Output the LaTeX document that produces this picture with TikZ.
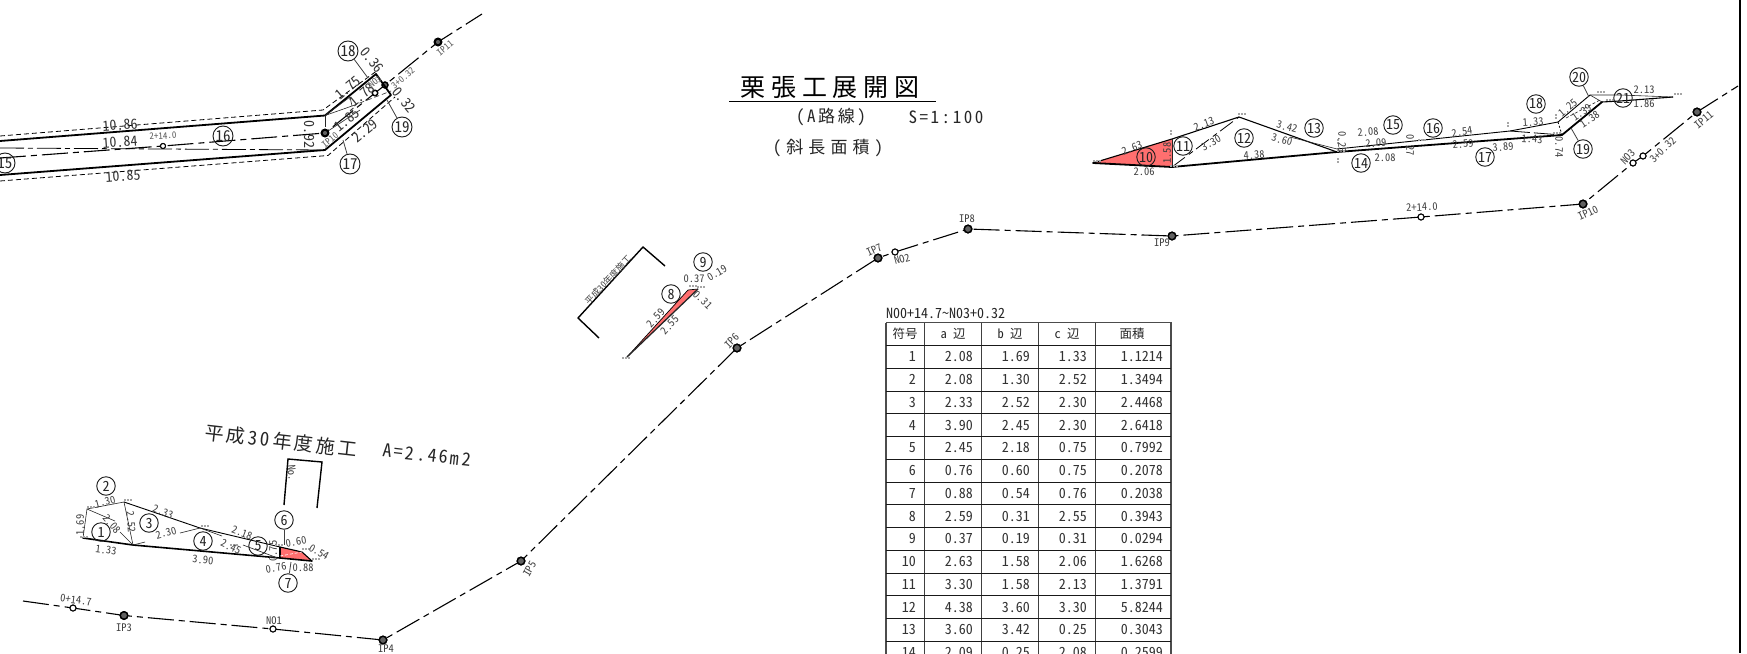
\documentclass[tikz,border=0pt]{standalone}
\usepackage{fontspec}
\setmainfont[RawFeature={+hwid}]{Noto Sans CJK JP}
\newcommand\fsz[1]{\fontsize{#1}{#1}\selectfont}
\definecolor{lotred}{HTML}{FF6F6F}
\tikzset{
  lab/.style={font=\fsz{10.5},text=black!75,inner sep=0pt},
  labb/.style={font=\fsz{14},text=black!80,inner sep=0pt},
  labs/.style={font=\fsz{9},text=black!65,inner sep=0pt},
  cnum/.style={circle,draw=black!90,line width=0.9pt,inner sep=0pt,minimum size=18.5pt,font=\fsz{14},text=black!85,fill=none},
  cnumb/.style={cnum,minimum size=20pt,font=\fsz{15}},
  ipt/.style={circle,draw=black,fill=black!62,line width=1.4pt,inner sep=0pt,minimum size=7.5pt},
  sta/.style={circle,draw=black,fill=white,line width=1pt,inner sep=0pt,minimum size=6pt},
  road/.style={line width=1.1pt,dash pattern=on 26pt off 5pt on 6pt off 5pt},
  heavy/.style={line width=1.8pt,line cap=round,line join=round},
  mid/.style={line width=1.1pt,line join=round},
  thin/.style={line width=0.6pt,black!85},
  dsh/.style={line width=0.8pt,dash pattern=on 5pt off 3pt},
  lead/.style={line width=0.8pt,black!75},
  gt/.style={line width=1.2pt,black!35,dash pattern=on 1.5pt off 1.5pt},
  brk/.style={line width=1.4pt},
  hd/.style={inner sep=0pt,font=\fsz{12.5},text=black!85},
  cell/.style={inner sep=0pt,anchor=east,font=\fsz{14},text=black!80},
}
\newcommand\lb[5][lab]{\node[#1,rotate=#2] (#3) at (#4) {#5};}
\newcommand\cc[4][cnum]{\node[#1] (#2) at (#3) {#4};}
\begin{document}
\begin{tikzpicture}[x=1pt,y=-1pt]
\path[use as bounding box,fill=white] (0,0) rectangle (1747,653);
\clip (0,0) rectangle (1747,653);
% ---- frame line at right
\coordinate (fa) at (1740,0); \coordinate (fb) at (1740,653);
\draw[line width=2.2pt] (fa) -- (fb);
% ---- title
\node[inner sep=0pt,font=\fsz{25}\addfontfeature{LetterSpace=23}] (title) at (830,87) {栗張工展開図};
\coordinate (ula) at (729,101); \coordinate (ulb) at (936,101);
\draw[line width=0.9pt] (ula) -- (ulb);
\node[inner sep=0pt,font=\fsz{17}\addfontfeature{LetterSpace=15},text=black!85] (tsub) at (831,117) {(A路線)};
\node[inner sep=0pt,font=\fsz{17}\addfontfeature{LetterSpace=15},text=black!85] (tscale) at (946,117) {S=1:100};
\node[inner sep=0pt,font=\fsz{17}\addfontfeature{LetterSpace=30},text=black!85] (tslope) at (828,148) {(斜長面積)};
% ---- main road
\node[sta] (s0) at (73,608) {};
\node[ipt] (ip3) at (124,615.5) {};
\node[sta] (n1) at (273,629) {};
\node[ipt] (ip4) at (383,640) {};
\node[ipt] (ip5) at (521,561) {};
\node[ipt] (ip6) at (737,348) {};
\node[ipt] (ip7) at (878,258) {};
\node[sta] (n2) at (895,252) {};
\node[ipt] (ip8) at (968,229) {};
\node[ipt] (ip9) at (1172,236) {};
\node[sta] (s2) at (1421,217) {};
\node[ipt] (ip10) at (1583,204) {};
\node[sta] (n3) at (1633,163) {};
\node[sta] (s3) at (1643,156) {};
\node[ipt] (ip11) at (1697,112) {};
\coordinate (rs) at (23,601); \coordinate (re) at (1738,86);
\draw[road] (rs) -- (s0.center) -- (ip3.center) -- (n1.center) -- (ip4.center) -- (ip5.center) -- (ip6.center) -- (ip7.center) -- (n2.center) -- (ip8.center) -- (ip9.center) -- (s2.center) -- (ip10.center) -- (n3.center) -- (s3.center) -- (ip11.center) -- (re);
\foreach \nm in {s0,n1,n2,s2,n3,s3}{\node[sta] at (\nm) {};}
\foreach \nm in {ip3,ip4,ip5,ip6,ip7,ip8,ip9,ip10,ip11}{\node[ipt] at (\nm) {};}
\lb{-7}{ls0}{76,600}{0+14.7}
\lb{0}{lip3}{124,628}{IP3}
\lb{0}{ln1}{274,621}{NO1}
\lb{0}{lip4}{386,649}{IP4}
\lb{60}{lip5}{530,569}{IP5}
\lb{45}{lip6}{732,341}{IP6}
\lb{25}{lip7}{874,250}{IP7}
\lb{15}{ln2}{902,259}{NO2}
\lb{0}{lip8}{967,219}{IP8}
\lb{0}{lip9}{1162,243}{IP9}
\lb{3}{ls2}{1422,207}{2+14.0}
\lb{25}{lip10}{1588,213}{IP10}
\lb{45}{ln3}{1628,157}{NO3}
\lb{45}{ls3}{1663,150}{3+0.32}
\lb{40}{lip11}{1704,120}{IP11}
% ---- top-left strip
\node[sta,minimum size=5pt] (as2) at (163,146) {};
\node[ipt] (aip10) at (325,133) {};
\node[sta,minimum size=6pt] (an3) at (375,93) {};
\node[ipt,minimum size=5pt] (as3) at (385,85) {};
\node[ipt] (aip11) at (438,42) {};
\coordinate (ars) at (0,158); \coordinate (are) at (482,14);
\draw[road] (ars) -- (as2.center) -- (aip10.center) -- (an3.center) -- (as3.center) -- (aip11.center) -- (are);
\foreach \nm in {as2,an3}{\node[sta,minimum size=5pt] at (\nm) {};}
\foreach \nm in {aip10,as3,aip11}{\node[ipt,minimum size=6pt] at (\nm) {};}
\coordinate (ua0) at (0,141); \coordinate (ua1) at (325,115.5); \coordinate (ua2) at (376,74);
\coordinate (ua3) at (391,95); \coordinate (ua4) at (325,150); \coordinate (ua5) at (0,175);
\draw[heavy] (ua0) -- (ua1) -- (ua2) -- (ua3) -- (ua4) -- (ua5);
\coordinate (da0) at (0,136); \coordinate (da1) at (323,110); \coordinate (da2) at (378,70);
\draw[dsh] (da0) -- (da1) -- (da2);
\coordinate (db0) at (0,181); \coordinate (db1) at (328,155.5); \coordinate (db2) at (395,97);
\draw[dsh] (db0) -- (db1) -- (db2);
\coordinate (ml0) at (0,148); \coordinate (ml1) at (325,150);
\draw[line width=0.8pt,dash pattern=on 24pt off 4pt on 5pt off 4pt] (ml0) -- (ml1);
\coordinate (ic) at (325,127); \coordinate (fa1) at (350,97); \coordinate (fa2) at (352,106);
\coordinate (fa3) at (391,91);
\draw[thin] (ua1) -- (ic);
\draw[thin] (ua1) -- (fa1); \draw[thin] (ua1) -- (fa2);
\draw[thin] (fa1) -- (fa2);
\draw[thin,dash pattern=on 5pt off 3pt] (fa2) -- (fa3);
\coordinate (am) at (360,110);
\draw[thin] (aip10) -- (am);
\lb[labb]{4}{a1086}{120,125}{10.86}
\lb[labb]{4}{a1084}{120,142}{10.84}
\lb[labb]{4}{a1085}{123,176}{10.85}
\lb[labs]{3}{a214}{163,136}{2+14.0}
\lb[labb]{-90}{a092}{310,134}{0.92}
\lb[labb]{40}{a185}{347,120}{1.85}
\lb[labb]{40}{a229}{365,131}{2.29}
\lb[labb]{40}{a175}{348,88}{1.75}
\lb[labb]{40}{a178}{362,95}{1.78}
\lb[labb]{-50}{a036}{372,60}{0.36}
\lb[labb]{-50}{a032}{404,100}{0.32}
\lb[labs]{40}{ano3}{375,82}{NO3}
\lb[labs]{40}{a3032}{403,78}{3+0.32}
\lb[labs]{40}{aip10t}{330,140}{IP10}
\lb[labs]{40}{aip11t}{445,48}{IP11}
\cc[cnumb]{ac15}{5,163}{15}
\cc[cnumb]{ac16}{223,136}{16}
\cc[cnumb]{ac17}{350,164}{17}
\cc[cnumb]{ac18}{348,51}{18}
\cc[cnumb]{ac19}{402,127}{19}
\coordinate (al18) at (368,78); \coordinate (al19) at (387,100); \coordinate (al17) at (343,140);
\draw[lead] (ac18) -- (al18); \draw[lead] (ac19) -- (al19); \draw[lead] (ac17) -- (al17);
% ---- lot 1-7
\coordinate (p1) at (83,538); \coordinate (p2) at (87,509); \coordinate (p3) at (124,502);
\coordinate (p4) at (133,545); \coordinate (p5) at (200,528); \coordinate (p6) at (280,558);
\coordinate (p7) at (280,547); \coordinate (p8) at (302,552); \coordinate (p9) at (312,561);
\coordinate (p1a) at (115,521); \coordinate (p1b) at (120,532);
\fill[lotred] (p7) -- (p8) -- (p9) -- (p6) -- cycle;
\draw[mid] (p7) -- (p8) -- (p9);
\draw[heavy,line width=1.6pt] (p1) -- (p4) -- (p6) -- (p9);
\draw[mid] (p6) -- (p7);
\draw[thin] (p1) -- (p2) -- (p3) -- (p4);
\draw[mid,line width=0.9pt] (p3) -- (p5) -- (p7);
\draw[thin] (p2) -- (p1a); \draw[thin] (p1b) -- (p4);
\coordinate (p4a) at (145,542); \coordinate (p4c) at (180,533);
\draw[thin] (p4) -- (p4a); \draw[thin] (p4c) -- (p5);
\coordinate (p5a) at (222,536); \coordinate (p5b) at (243,545); \coordinate (p5c) at (275,557);
\draw[thin] (p5) -- (p5a); \draw[thin] (p5b) -- (p5c);
\coordinate (rda) at (280,556); \coordinate (rdb) at (302,552);
\draw[thin,white,dash pattern=on 3pt off 2pt] (rda) -- (rdb);
\foreach \xx/\yy in {87/507, 124/500, 201/526, 230/545, 275/545, 302/549, 312/559, 80/537}{\draw[gt] (\xx,\yy) -- ++(9,0);}
\lb[lab]{15}{b130}{105,502}{1.30}
\lb[lab]{90}{b169}{80,525}{1.69}
\lb[lab]{-50}{b208}{112,524}{2.08}
\lb[lab]{-7}{b133}{106,550}{1.33}
\lb[lab]{-85}{b252}{131,522}{2.52}
\lb[lab]{15}{b230}{166,533}{2.30}
\lb[lab]{-20}{b233}{163,512}{2.33}
\lb[lab]{-20}{b218}{242,533}{2.18}
\lb[lab]{-25}{b245}{231,547}{2.45}
\lb[lab]{-5}{b390}{203,560}{3.90}
\lb[lab]{90}{b075}{273,551}{0.75}
\lb[lab]{10}{b060}{296,542}{0.60}
\lb[lab]{-30}{b054}{319,552}{0.54}
\lb[lab]{10}{b076}{276,568}{0.76}
\lb[lab]{0}{b088}{303,568}{0.88}
\cc{c1}{101,532}{1}
\cc{c2}{106,486}{2}
\cc{c3}{149,523}{3}
\cc{c4}{203,541}{4}
\cc{c5}{258,546}{5}
\cc{c6}{284,520}{6}
\cc{c7}{288,583}{7}
\coordinate (l6) at (284,545); \coordinate (l7) at (291,562);
\draw[lead] (c6) -- (l6); \draw[lead] (c7) -- (l7);
\node[inner sep=0pt,font=\fsz{19}\addfontfeature{LetterSpace=15},text=black!85,rotate=-6.5] (h30) at (281,441) {平成30年度施工};
\node[inner sep=0pt,font=\fsz{18}\addfontfeature{LetterSpace=13},text=black!85,rotate=-6.5] (harea) at (427,455) {A=2.46m2};
\coordinate (bk1) at (284,505); \coordinate (bk2) at (288,459); \coordinate (bk3) at (322,462); \coordinate (bk4) at (317,508);
\draw[brk] (bk1) -- (bk2) -- (bk3) -- (bk4);
\lb[lab]{-85}{bno}{292,473}{No.}
% ---- lot 8-9
\coordinate (q1) at (627,357); \coordinate (q2) at (688,290); \coordinate (q3) at (698,289);
\fill[lotred] (q1) -- (q2) -- (q3) -- cycle;
\draw[mid,line width=0.7pt] (q1) -- (q2) -- (q3);
\draw[heavy,line width=1.3pt,black!85] (q1) -- (q3);
\foreach \xx/\yy in {689/286, 622/358, 697/287}{\draw[gt] (\xx,\yy) -- ++(8,0);}
\lb[lab]{48}{q259}{656,318}{2.59}
\lb[lab]{48}{q255}{670,325}{2.55}
\lb[lab]{0}{q037}{694,279}{0.37}
\lb[lab]{30}{q019}{717,273}{0.19}
\lb[lab]{-45}{q031}{703,300}{0.31}
\cc{c8}{671,294}{8}
\cc{c9}{703,262}{9}
\coordinate (br1) at (599,338); \coordinate (br2) at (578,318); \coordinate (br3) at (643,247); \coordinate (br4) at (665,266);
\draw[brk] (br1) -- (br2) -- (br3) -- (br4);
\node[inner sep=0pt,font=\fsz{9},text=black!75,rotate=47] (brt) at (608,280) {平成30年度施工};
% ---- right strip
\coordinate (ra) at (1093,163); \coordinate (rb) at (1172,139); \coordinate (rc) at (1172,167);
\coordinate (rd) at (1239,117); \coordinate (rf) at (1337,152); \coordinate (rg) at (1562,135);
\coordinate (rh) at (1558,122); \coordinate (ri) at (1510,131); \coordinate (rj) at (1590,95);
\coordinate (rk) at (1602,102); \coordinate (rl) at (1620,95); \coordinate (rm) at (1673,97);
\coordinate (rn) at (1620,101); \coordinate (ru) at (1337,149); \coordinate (rv) at (1290,137);
\fill[lotred] (ra) -- (rb) -- (rc) -- cycle;
\draw[heavy] (ra) -- (rc) -- (rf) -- (rg);
\draw[mid] (ra) -- (rb) -- (rd) -- (rf);
\draw[thin] (rb) -- (rc);
\draw[dsh,dash pattern=on 16pt off 5pt on 5pt off 4pt] (rc) -- (rd);
\draw[thin] (rv) -- (ru);
\draw[mid,line width=0.9pt] (ru) -- (ri) -- (rh) -- (rj);
\draw[dsh,dash pattern=on 20pt off 4pt] (ri) -- (rg);
\draw[dsh,dash pattern=on 2pt off 2pt] (rh) -- (rg);
\draw[heavy] (rg) -- (rk);
\draw[thin] (rj) -- (rk);
\draw[thin] (rj) -- (rl) -- (rm);
\draw[mid] (rk) -- (rn) -- (rm);
\coordinate (dgl) at (1566,118); \coordinate (dgm) at (1600,100);
\draw[thin,dash pattern=on 3pt off 2pt] (dgl) -- (dgm);
\foreach \xx/\yy in {1093/161, 1238/114, 1170/166, 1337/151, 1418/140, 1553/133, 1597/92, 1606/100, 1674/94}{\draw[gt] (\xx,\yy) -- ++(8,0);}
\foreach \xx/\yy in {1171/130, 1338/139, 1338/158, 1508/122, 1556/114}{\draw[gt] (\xx,\yy) -- ++(0,6);}
\lb[lab]{20}{r263}{1132,148}{2.63}
\lb[lab]{0}{r206}{1144,172}{2.06}
\lb[lab]{90}{r158}{1167,153}{1.58}
\lb[lab]{20}{r213}{1204,124}{2.13}
\lb[lab]{30}{r330}{1211,143}{3.30}
\lb[lab]{4}{r438}{1254,155}{4.38}
\lb[lab]{-15}{r342}{1287,127}{3.42}
\lb[lab]{-15}{r360}{1282,140}{3.60}
\lb[lab]{-90}{r025}{1342,142}{0.25}
\lb[lab]{5}{r208a}{1368,132}{2.08}
\lb[lab]{3}{r209}{1376,143}{2.09}
\lb[lab]{0}{r208b}{1385,158}{2.08}
\lb[lab]{-90}{r027}{1410,145}{0.27}
\lb[lab]{8}{r254}{1462,132}{2.54}
\lb[lab]{5}{r259}{1463,144}{2.59}
\lb[lab]{5}{r389}{1503,147}{3.89}
\lb[lab]{4}{r133}{1533,122}{1.33}
\lb[lab]{-3}{r143}{1532,139}{1.43}
\lb[lab]{-90}{r074}{1559,147}{0.74}
\lb[lab]{35}{r138}{1590,119}{1.38}
\lb[lab]{40}{r125}{1568,108}{1.25}
\lb[lab]{35}{r139}{1582,112}{1.39}
\lb[lab]{0}{r213b}{1644,90}{2.13}
\lb[lab]{0}{r186}{1644,104}{1.86}
\cc{c10}{1146,157}{10}
\cc{c11}{1183,146}{11}
\cc{c12}{1244,138}{12}
\cc{c13}{1314,128}{13}
\cc{c14}{1361,163}{14}
\cc{c15}{1393,125}{15}
\cc{c16}{1433,128}{16}
\cc{c17}{1485,157}{17}
\cc{c18}{1536,104}{18}
\cc{c19}{1583,149}{19}
\cc{c20}{1579,77}{20}
\cc{c21}{1623,98}{21}
\coordinate (rl19) at (1571,128); \coordinate (rl20) at (1589,97);
\draw[lead] (c19) -- (rl19); \draw[lead] (c20) -- (rl20);
% ---- table
\node[inner sep=0pt,anchor=west,font=\fsz{14},text=black!85] (ttl) at (886,313) {N00+14.7〜N03+0.32};
\coordinate (t0) at (886,322.5); \coordinate (t1) at (1171,322.5);
\coordinate (t2) at (886,670); \coordinate (t3) at (1171,670);
\draw[line width=1.1pt,black!70] (t0) -- (t1) -- (t3);
\draw[line width=1.1pt,black!70] (t0) -- (t2);
\foreach \xx in {924.5,981.5,1038,1095}{\draw[line width=0.9pt,black!75] (\xx,322.5) -- (\xx,670);}
\foreach \ii in {0,...,14}{\draw[line width=0.9pt,black!90] (886,345.5+22.75*\ii) -- (1171,345.5+22.75*\ii);}
\node[hd] (th1) at (905,334) {符号};
\node[hd] (th2) at (953,334) {a 辺};
\node[hd] (th3) at (1010,334) {b 辺};
\node[hd] (th4) at (1067,334) {c 辺};
\node[hd] (th5) at (1132,334) {面積};
\foreach \nn/\aa/\bb/\cc/\dd [count=\ii] in {1/2.08/1.69/1.33/1.1214, 2/2.08/1.30/2.52/1.3494, 3/2.33/2.52/2.30/2.4468, 4/3.90/2.45/2.30/2.6418, 5/2.45/2.18/0.75/0.7992, 6/0.76/0.60/0.75/0.2078, 7/0.88/0.54/0.76/0.2038, 8/2.59/0.31/2.55/0.3943, 9/0.37/0.19/0.31/0.0294, 10/2.63/1.58/2.06/1.6268, 11/3.30/1.58/2.13/1.3791, 12/4.38/3.60/3.30/5.8244, 13/3.60/3.42/0.25/0.3043, 14/2.09/0.25/2.08/0.2599}{
  \pgfmathsetmacro\ty{345.5+22.75*(\ii-1)+11.4}
  \node[cell] (tn\ii) at (916,\ty) {\nn};
  \node[cell] (ta\ii) at (973,\ty) {\aa};
  \node[cell] (tb\ii) at (1030,\ty) {\bb};
  \node[cell] (tc\ii) at (1087,\ty) {\cc};
  \node[cell] (td\ii) at (1163,\ty) {\dd};
}
\end{tikzpicture}
\end{document}
